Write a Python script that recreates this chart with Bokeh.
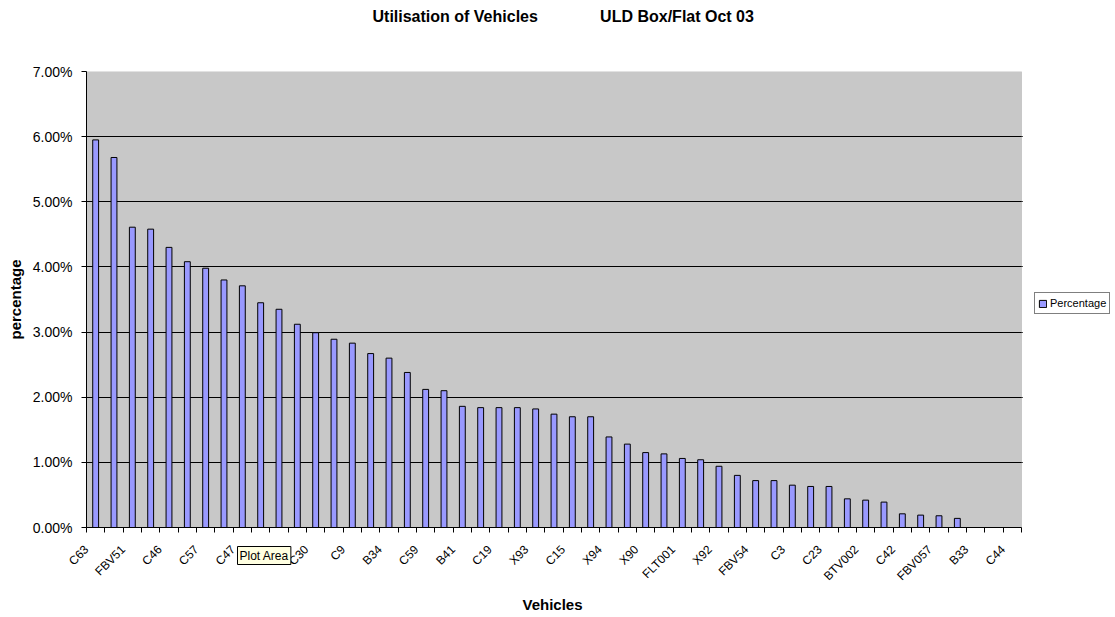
import math
from bokeh.plotting import figure
from bokeh.models import (ColumnDataSource, FixedTicker, PrintfTickFormatter, Label,
                          Legend, LegendItem, Range1d, Title, BoxAnnotation)
from bokeh.embed import file_html
from bokeh.resources import INLINE

# ---------------- data ----------------
title_left = "Utilisation of Vehicles"
title_right = "ULD Box/Flat Oct 03"
x_title = "Vehicles"
y_title = "percentage"
series_name = "Percentage"

# labels shown on every second category
tick_labels = ["C63", "FBV51", "C46", "C57", "C47", "C20", "C30", "C9", "B34", "C59",
               "B41", "C19", "X93", "C15", "X94", "X90", "FLT001", "X92", "FBV54", "C3",
               "C23", "BTV002", "C42", "FBV057", "B33", "C44"]

percentages = [5.95, 5.68, 4.61, 4.58, 4.30, 4.08, 3.98, 3.80, 3.71, 3.45,
               3.35, 3.12, 2.99, 2.89, 2.83, 2.67, 2.60, 2.38, 2.12, 2.10,
               1.86, 1.84, 1.84, 1.84, 1.82, 1.74, 1.70, 1.70, 1.39, 1.28,
               1.15, 1.13, 1.06, 1.04, 0.94, 0.80, 0.72, 0.72, 0.65, 0.63,
               0.63, 0.44, 0.42, 0.39, 0.21, 0.19, 0.18, 0.14, 0.0, 0.0, 0.0]

y_ticks = [0, 1, 2, 3, 4, 5, 6, 7]

# ---------------- layout constants ----------------
FONT = "Liberation Sans"
n = len(percentages)
PLOT_W = 935          # width of the grey plot area in px
FRAME_W = 1027        # frame also holds the legend at the right
FRAME_H = 456
x_end = -0.5 + n * FRAME_W / PLOT_W
px = PLOT_W / n       # px per category

xs = list(range(n))
label_pos = list(range(0, n, 2))
label_ticks = [i - 0.5 for i in label_pos]   # rotated labels end left of their bar

src = ColumnDataSource(dict(x=xs, pct=percentages))

p = figure(frame_width=FRAME_W, frame_height=FRAME_H,
           x_range=Range1d(-0.5, x_end), y_range=Range1d(0, 7),
           output_backend="svg", toolbar_location=None,
           min_border_left=86, min_border_right=0,
           min_border_top=0, min_border_bottom=0)

p.background_fill_color = "white"
p.border_fill_color = "white"
p.outline_line_color = None

# grey plot area (fill below the grid)
p.add_layout(BoxAnnotation(left=-0.5, right=n - 0.5, bottom=0, top=7,
                           fill_color="#c8c8c8", fill_alpha=1.0,
                           line_color=None, level="image"))

bars = p.vbar(x="x", top="pct", bottom=0, width=0.32, source=src,
              fill_color="#9999ff", line_color="black", line_width=1)

# x axis
xa = p.xaxis[0]
xa.bounds = (-0.5, n - 0.5)
xa.ticker = FixedTicker(ticks=label_ticks, minor_ticks=[i - 0.5 for i in range(n + 1)])
xa.major_label_overrides = {t: lab for t, lab in zip(label_ticks, tick_labels)}
xa.major_label_orientation = math.pi / 4
xa.major_tick_out = 0
xa.major_tick_in = 0
xa.minor_tick_out = 5
xa.minor_tick_in = 0
xa.minor_tick_line_color = "black"
xa.axis_line_color = "black"
xa.major_label_text_font = FONT
xa.major_label_text_font_size = "12px"
xa.major_label_text_color = "black"
xa.major_label_standoff = 15

# y axis
ya = p.yaxis[0]
ya.ticker = FixedTicker(ticks=y_ticks)
ya.formatter = PrintfTickFormatter(format="%.2f%%")
ya.major_tick_out = 5
ya.major_tick_in = 0
ya.minor_tick_out = 0
ya.minor_tick_in = 0
ya.axis_line_color = "black"
ya.major_tick_line_color = "black"
ya.major_label_text_font = FONT
ya.major_label_text_font_size = "14px"
ya.major_label_text_color = "black"
ya.major_label_standoff = 9
ya.axis_label = y_title
ya.axis_label_text_font = FONT
ya.axis_label_text_font_size = "15px"
ya.axis_label_text_font_style = "bold"
ya.axis_label_text_color = "black"
ya.axis_label_standoff = 6

p.xgrid.visible = False
p.ygrid.ticker = FixedTicker(ticks=y_ticks[:-1])
p.ygrid.grid_line_color = "black"
p.ygrid.grid_line_width = 1

# white mask right of the plot area, so the grid lines stop at its edge
p.add_layout(BoxAnnotation(left=n - 0.5 + 1.2 / px, right=x_end + 1, bottom=-1, top=8,
                           fill_color="white", fill_alpha=1.0, line_color=None,
                           level="underlay"))
# grey border of the plot area
p.add_layout(BoxAnnotation(left=-0.5, right=n - 0.5, bottom=0, top=7,
                           fill_alpha=0.0, line_color="#8c8c8c", line_width=1,
                           level="underlay"))

# "Plot Area" hover tip seen in the screenshot (drawn down over the tick labels)
p.add_layout(Label(x=151, y=-484, x_units="screen", y_units="screen", text="Plot Area",
                   text_font=FONT, text_font_size="12px", text_color="black",
                   text_align="left", text_baseline="middle",
                   background_fill_color="#ffffe1", border_line_color="black",
                   padding=2), "above")

# blank spacer, then the title text at the top
gap = "\u00a0" * 14
p.add_layout(Title(text="\u00a0", standoff=0, text_font=FONT, text_font_size="15px"), "above")
p.add_layout(Title(text=title_left + gap + title_right, align="left", offset=286,
                   vertical_align="top", standoff=15,
                   text_font=FONT, text_font_size="16px",
                   text_font_style="bold", text_color="black"), "above")

# legend to the right of the grey plot area
legend = Legend(items=[LegendItem(label=series_name, renderers=[bars])],
                location=(948, 213), orientation="vertical",
                border_line_color="black", border_line_width=1,
                background_fill_color="white", background_fill_alpha=1.0,
                padding=3, margin=0, spacing=0,
                glyph_width=9, glyph_height=9, label_standoff=3,
                label_height=14, label_text_font=FONT,
                label_text_font_size="11px", label_text_color="black")
p.add_layout(legend)

# x axis title
p.add_layout(Title(text=x_title, align="left", offset=436, vertical_align="bottom",
                   standoff=4, text_font=FONT, text_font_size="15px",
                   text_font_style="bold", text_color="black"), "below")

open("out.html", "w").write(file_html(p, INLINE))
